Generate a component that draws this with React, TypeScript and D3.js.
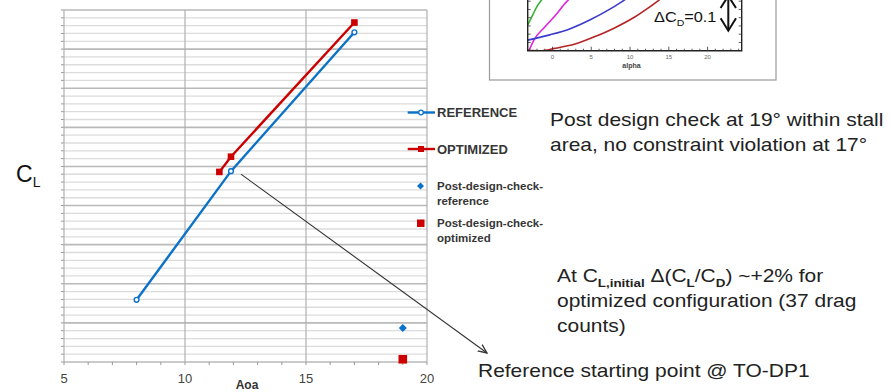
import * as d3 from 'd3';

// main chart: lift coefficient vs angle of attack
const refAoa = [8, 11.9, 17];
const refCL = [1.159, 1.488, 1.843];
const optAoa = [11.42, 11.9, 17];
const optCL = [1.486, 1.525, 1.868];
const checkAoa = [19];
const checkRefCL = [1.087];
const checkOptCL = [1.007];
const xTickLabels = [5, 10, 15, 20];

// inset: drag coefficient vs alpha
const insetGreenA = [-3.2, -2.5, -1.9, -1.4, -1.0];
const insetGreenCD = [0.078, 0.111, 0.138, 0.154, 0.169];
const insetMagentaA = [-3.0, -2.4, -1.0, 0.3, 1.8, 2.2];
const insetMagentaCD = [0.002, 0.032, 0.072, 0.105, 0.148, 0.157];
const insetBlueA = [-3.2, -0.35, 2.2, 4.8, 7.4, 9.3, 9.9];
const insetBlueCD = [0.032, 0.048, 0.066, 0.093, 0.126, 0.154, 0.163];
const insetRedA = [-3.2, -1.6, 0.3, 2.9, 5.4, 8.0, 10.6, 12.5, 13.8];
const insetRedCD = [0.001, 0, 0.007, 0.02, 0.042, 0.069, 0.102, 0.132, 0.154];
const insetTickLabels = [0, 5, 10, 15, 20];

const BLUE = '#0a72c8';
const RED = '#cc0000';
const FONT = '"Liberation Sans", Arial, sans-serif';
const SX = 1.165; // slide text is a bit wider than the font

export default function App() {
  const W = 891;
  const H = 392;

  const x = d3.scaleLinear().domain([5, 20]).range([64, 427]);
  const y = d3.scaleLinear().domain([1.0, 1.9]).range([362, 10]);

  const line = d3
    .line<[number, number]>()
    .x((d) => x(d[0]))
    .y((d) => y(d[1]));

  const refPts = refAoa.map((a, i) => [a, refCL[i]] as [number, number]);
  const optPts = optAoa.map((a, i) => [a, optCL[i]] as [number, number]);

  const yGrid = d3.range(46).map((i) => 1.0 + i * 0.02);
  const xMinor = d3.range(5, 21);

  // inset scales
  const ix = d3.scaleLinear().domain([-3.2, 24.4]).range([527.7, 741.7]);
  const iy = d3.scaleLinear().domain([0, 0.1]).range([50.7, 17.7]);
  const iline = d3
    .line<[number, number]>()
    .x((d) => ix(d[0]))
    .y((d) => iy(d[1]))
    .curve(d3.curveMonotoneX);
  const insetCurves = [
    { a: insetGreenA, cd: insetGreenCD, c: '#2fb52f' },
    { a: insetMagentaA, cd: insetMagentaCD, c: '#e024e0' },
    { a: insetBlueA, cd: insetBlueCD, c: '#3b3bcf' },
    { a: insetRedA, cd: insetRedCD, c: '#b42424' },
  ];

  const arrowStart = [x(refAoa[1]) + 10, y(refCL[1]) + 3];
  const arrowEnd = [487, 353];

  return (
    <svg
      width={W}
      height={H}
      style={{ position: 'absolute', left: 0, top: 0, background: '#fff' }}
      fontFamily={FONT}
    >
      <defs>
        <clipPath id="insetClip">
          <rect x={527.7} y={-10} width={214} height={60.7} />
        </clipPath>
        <marker id="arr" viewBox="0 0 10 10" refX="9" refY="5" markerWidth="9" markerHeight="9" orient="auto">
          <path d="M0,1 L9,5 L0,9" fill="none" stroke="#333" strokeWidth={1.3} />
        </marker>
      </defs>

      {/* horizontal grid */}
      {yGrid.map((v, i) => (
        <g key={'g' + i}>
          <line
            x1={x(5)}
            x2={x(20)}
            y1={y(v)}
            y2={y(v)}
            stroke={i % 5 === 0 ? '#b9b9b9' : '#dcdcdc'}
            strokeWidth={i % 5 === 0 ? 1.6 : 1.3}
          />
          <line x1={x(5) - 3} x2={x(5)} y1={y(v)} y2={y(v)} stroke="#999" strokeWidth={1} />
        </g>
      ))}
      {/* vertical grid */}
      {xTickLabels.map((v) => (
        <line key={'v' + v} x1={x(v)} x2={x(v)} y1={y(1.9)} y2={y(1.0)} stroke="#b0b0b0" strokeWidth={1.2} />
      ))}
      {xMinor.map((v) => (
        <line key={'t' + v} x1={x(v)} x2={x(v)} y1={y(1.0)} y2={y(1.0) + 3} stroke="#999" strokeWidth={1} />
      ))}
      {xTickLabels.map((v) => (
        <text key={'l' + v} x={x(v)} y={383} fontSize={13} fill="#444" textAnchor="middle">
          {v}
        </text>
      ))}
      <text x={247} y={388.5} fontSize={12} fontWeight="bold" fill="#333" textAnchor="middle">
        Aoa
      </text>

      {/* C_L label */}
      <text x={16} y={182} fontSize={23} fill="#111">
        C<tspan fontSize={14} dy={5}>L</tspan>
      </text>

      {/* series */}
      <path d={line(refPts) ?? ''} fill="none" stroke={BLUE} strokeWidth={2.4} />
      <path d={line(optPts) ?? ''} fill="none" stroke={RED} strokeWidth={2.4} />
      {optPts.map((p, i) => (
        <rect key={'o' + i} x={x(p[0]) - 3.3} y={y(p[1]) - 3.3} width={6.6} height={6.6} fill={RED} />
      ))}
      {refPts.map((p, i) => (
        <circle key={'r' + i} cx={x(p[0])} cy={y(p[1])} r={2.4} fill="#fff" stroke={BLUE} strokeWidth={1.4} />
      ))}
      {checkAoa.map((a, i) => (
        <g key={'c' + i}>
          <path
            d={`M${x(a)},${y(checkRefCL[i]) - 4}l4,4l-4,4l-4,-4z`}
            fill={BLUE}
          />
          <rect x={x(a) - 4.3} y={y(checkOptCL[i]) - 4.3} width={8.6} height={8.6} fill={RED} />
        </g>
      ))}

      {/* legend */}
      <g fontWeight="bold" fill="#363636">
        <line x1={407.7} x2={435} y1={112.5} y2={112.5} stroke={BLUE} strokeWidth={2.4} />
        <circle cx={421} cy={112.5} r={2.3} fill="#fff" stroke={BLUE} strokeWidth={1.3} />
        <text x={437} y={117} fontSize={13}>REFERENCE</text>
        <line x1={407.7} x2={435} y1={149} y2={149} stroke={RED} strokeWidth={2.4} />
        <rect x={418} y={146} width={6} height={6} fill={RED} />
        <text x={437} y={153.5} fontSize={13}>OPTIMIZED</text>
        <path d="M420.5,182.5l3.5,3.5l-3.5,3.5l-3.5,-3.5z" fill={BLUE} />
        <text x={437} y={190} fontSize={11.5}>Post-design-check-</text>
        <text x={437} y={205} fontSize={11.5}>reference</text>
        <rect x={417} y={219.5} width={7.5} height={7.5} fill={RED} />
        <text x={437} y={227} fontSize={11.5}>Post-design-check-</text>
        <text x={437} y={242} fontSize={11.5}>optimized</text>
      </g>

      {/* annotation arrow */}
      <line
        x1={arrowStart[0]}
        y1={arrowStart[1]}
        x2={arrowEnd[0]}
        y2={arrowEnd[1]}
        stroke="#333"
        strokeWidth={1.1}
        markerEnd="url(#arr)"
      />

      {/* inset picture */}
      <rect x={489.5} y={-2} width={286.5} height={82} fill="#fff" stroke="#9a9a9a" strokeWidth={1.2} />
      <g clipPath="url(#insetClip)">
        {insetCurves.map((c, i) => (
          <path
            key={'ic' + i}
            d={iline(c.a.map((a, j) => [a, c.cd[j]] as [number, number])) ?? ''}
            fill="none"
            stroke={c.c}
            strokeWidth={1.6}
          />
        ))}
      </g>
      <path
        d={`M${ix(-3.2)},-2V${iy(0)}H${ix(24.4)}V-2`}
        fill="none"
        stroke="#222"
        strokeWidth={1.4}
      />
      {d3.range(-3, 25).map((a) => (
        <line
          key={'it' + a}
          x1={ix(a)}
          x2={ix(a)}
          y1={iy(0)}
          y2={iy(0) - (a % 5 === 0 ? 4 : 2)}
          stroke="#333"
          strokeWidth={0.8}
        />
      ))}
      {[0.025, 0.05, 0.075, 0.1, 0.125, 0.15].map((v) => (
        <g key={'iy' + v}>
          <line x1={ix(-3.2)} x2={ix(-3.2) + 3} y1={iy(v)} y2={iy(v)} stroke="#333" strokeWidth={0.8} />
          <line x1={ix(24.4)} x2={ix(24.4) - 3} y1={iy(v)} y2={iy(v)} stroke="#333" strokeWidth={0.8} />
        </g>
      ))}
      {insetTickLabels.map((v) => (
        <text key={'il' + v} x={ix(v)} y={59} fontSize={6} fill="#666" textAnchor="middle">
          {v}
        </text>
      ))}
      <text x={631.5} y={68} fontSize={7} fontWeight="bold" fill="#444" textAnchor="middle">
        alpha
      </text>
      <text transform={`translate(654,21.7) scale(${SX},1)`} fontSize={14} fill="#111">
        ΔC<tspan fontSize={9} dy={4}>D</tspan>
        <tspan dy={-4}>=0.1</tspan>
      </text>
      <g stroke="#111" strokeWidth={2} fill="none">
        <line x1={728.3} x2={728.3} y1={-4} y2={30.5} />
        <path d="M720.6,8L728.3,-4L736,8" />
        <path d="M720.6,18.3L728.3,30.7L736,18.3" />
      </g>

      {/* slide annotations */}
      <g fontSize={18} fill="#222">
        <text transform={`translate(550,126) scale(${SX},1)`}>Post design check at 19° within stall</text>
        <text transform={`translate(550,151) scale(${SX},1)`}>area, no constraint violation at 17°</text>
        <text transform={`translate(557,282) scale(${SX},1)`}>
          At C<tspan fontSize={11.5} fontWeight="bold" dy={5}>L,initial</tspan>
          <tspan dy={-5}> Δ(C</tspan>
          <tspan fontSize={11.5} fontWeight="bold" dy={5}>L</tspan>
          <tspan dy={-5}>/C</tspan>
          <tspan fontSize={11.5} fontWeight="bold" dy={5}>D</tspan>
          <tspan dy={-5}>) ~+2% for</tspan>
        </text>
        <text transform={`translate(557,307) scale(${SX},1)`}>optimized configuration (37 drag</text>
        <text transform={`translate(557,332) scale(${SX},1)`}>counts)</text>
        <text transform={`translate(478,377) scale(${SX},1)`}>Reference starting point @ TO-DP1</text>
      </g>
    </svg>
  );
}
